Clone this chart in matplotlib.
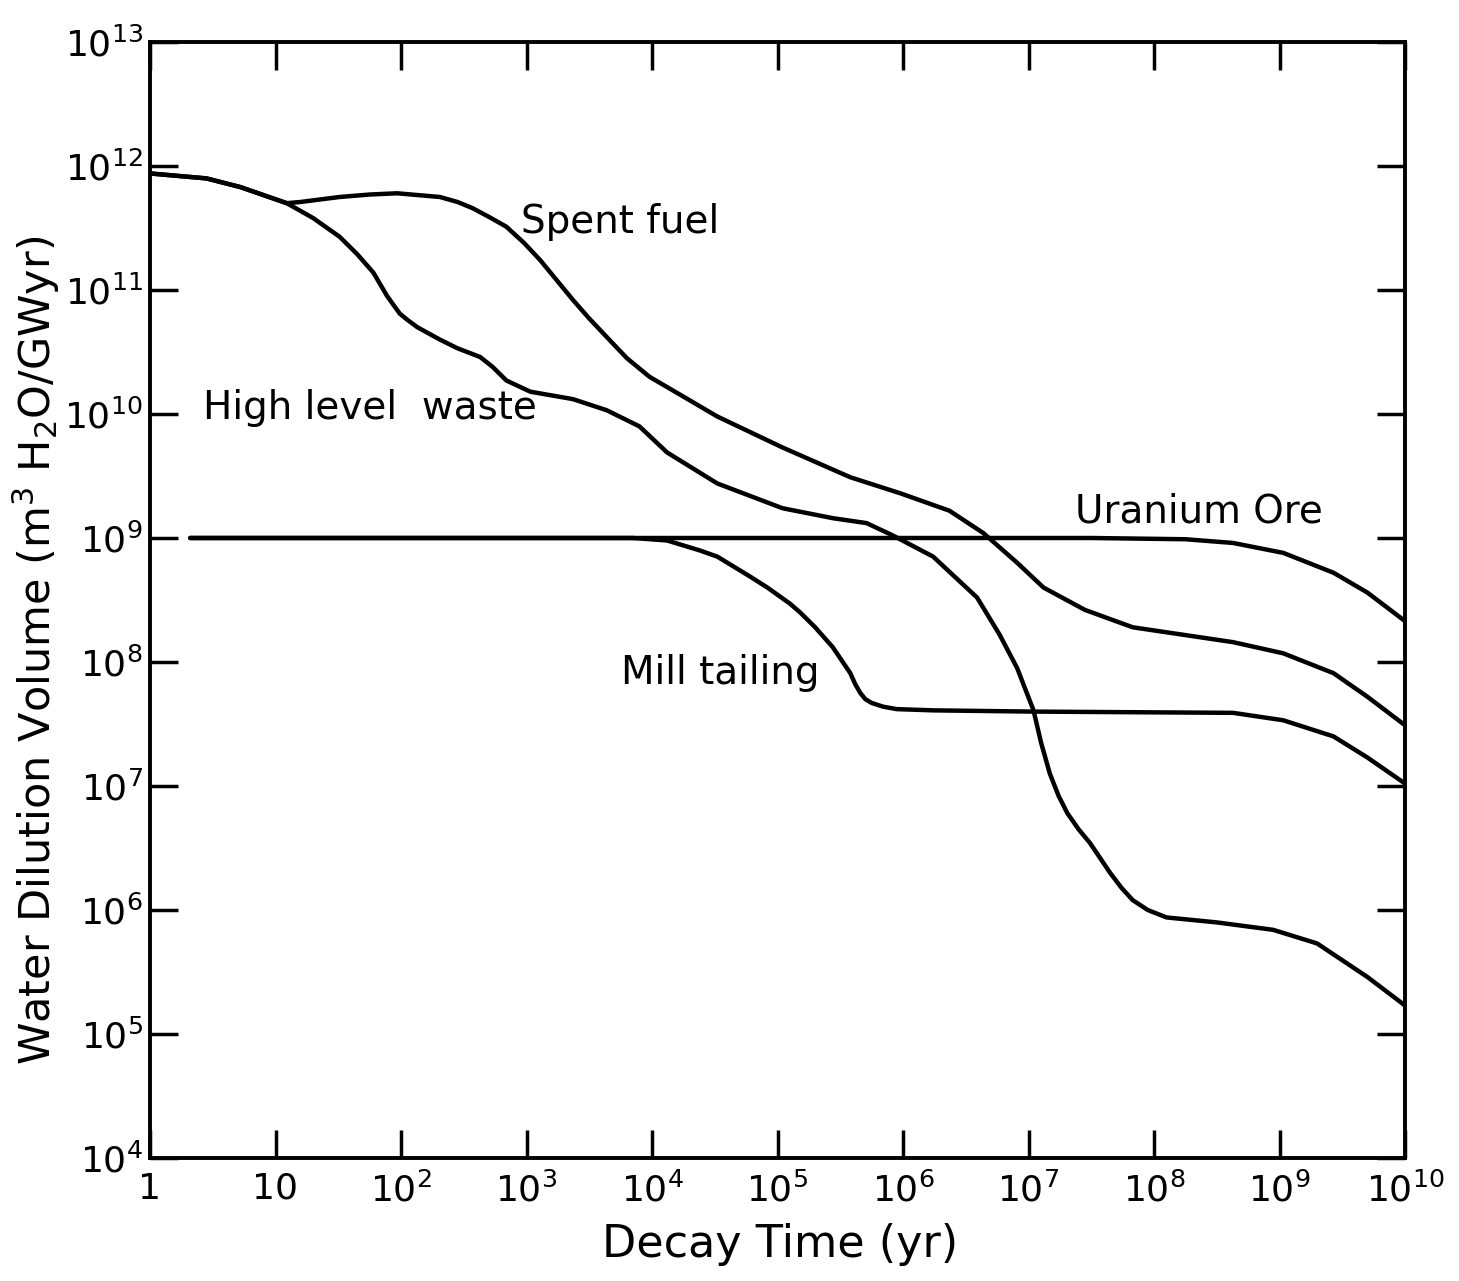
import numpy as np
import matplotlib
matplotlib.use("Agg")
import matplotlib.pyplot as plt

# values, as log10 of decay time (yr) and log10 of volume
spent_t = [0.0, 0.45, 0.72, 1.09, 1.20, 1.51, 1.75, 1.97, 2.31, 2.45, 2.57, 2.70, 2.84,
           2.98, 3.11, 3.24, 3.37, 3.50, 3.64, 3.80, 3.98, 4.20, 4.52, 5.04, 5.58,
           5.98, 6.37, 6.64, 6.91, 7.12, 7.45, 7.83, 8.23, 8.63, 9.03, 9.43, 9.70, 10.0]
spent_v = [11.94, 11.90, 11.83, 11.70, 11.71, 11.75, 11.77, 11.78, 11.75, 11.71, 11.66,
           11.59, 11.51, 11.38, 11.24, 11.08, 10.92, 10.77, 10.62, 10.45, 10.30, 10.17,
           9.98, 9.73, 9.49, 9.36, 9.22, 9.04, 8.80, 8.60, 8.42, 8.28, 8.22, 8.16, 8.07,
           7.91, 7.72, 7.49]

hlw_t = [0.0, 0.45, 0.72, 1.09, 1.30, 1.51, 1.65, 1.78, 1.89, 1.99, 2.05, 2.13, 2.31,
         2.45, 2.63, 2.73, 2.84, 3.03, 3.37, 3.64, 3.90, 4.12, 4.52, 5.04, 5.44, 5.71,
         5.92, 6.24, 6.59, 6.77, 6.91, 7.04, 7.10, 7.17, 7.24, 7.31, 7.40, 7.49, 7.57,
         7.65, 7.74, 7.83, 7.95, 8.10, 8.50, 8.95, 9.30, 9.70, 10.0]
hlw_v = [11.94, 11.90, 11.83, 11.70, 11.58, 11.43, 11.29, 11.14, 10.95, 10.81, 10.76,
         10.70, 10.60, 10.53, 10.46, 10.38, 10.27, 10.18, 10.12, 10.03, 9.90, 9.69,
         9.44, 9.24, 9.16, 9.12, 9.02, 8.85, 8.52, 8.22, 7.95, 7.61, 7.35, 7.10, 6.92,
         6.78, 6.65, 6.54, 6.42, 6.30, 6.18, 6.08, 6.00, 5.94, 5.90, 5.84, 5.73, 5.46,
         5.23]

ore_t = [0.32, 4.0, 7.5, 8.25, 8.63, 9.03, 9.43, 9.70, 10.0]
ore_v = [9.0, 9.0, 9.0, 8.99, 8.96, 8.88, 8.72, 8.56, 8.33]

mill_t = [0.32, 3.85, 4.12, 4.38, 4.52, 4.78, 4.92, 5.10, 5.18, 5.30, 5.44, 5.58, 5.62,
          5.66, 5.70, 5.75, 5.78, 5.84, 5.95, 6.24, 7.04, 8.63, 9.03, 9.43, 9.70, 10.0]
mill_v = [9.0, 9.0, 8.98, 8.90, 8.85, 8.69, 8.60, 8.47, 8.40, 8.28, 8.12, 7.91, 7.82,
          7.75, 7.70, 7.67, 7.66, 7.64, 7.62, 7.61, 7.60, 7.59, 7.53, 7.40, 7.23, 7.02]

x_ticks = [0, 1, 2, 3, 4, 5, 6, 7, 8, 9, 10]
x_labels = ['1', '10'] + [r'$10^{%d}$' % k for k in range(2, 11)]
y_ticks = list(range(4, 14))
y_labels = [r'$10^{%d}$' % k for k in y_ticks]

fig = plt.figure(figsize=(14.59, 12.81), dpi=100)
ax = fig.add_axes([150 / 1459, 1 - 1158 / 1281, 1255 / 1459, 1116 / 1281])

lw = 3.2
for t, v in [(spent_t, spent_v), (hlw_t, hlw_v), (ore_t, ore_v), (mill_t, mill_v)]:
    ax.plot(10.0 ** np.array(t), 10.0 ** np.array(v), color='black', lw=lw,
            solid_joinstyle='round', solid_capstyle='round')

ax.set_xscale('log')
ax.set_yscale('log')
ax.set_xlim(1, 1e10)
ax.set_ylim(1e4, 1e13)
ax.set_xticks([10.0 ** k for k in x_ticks])
ax.set_xticklabels(x_labels)
ax.set_yticks([10.0 ** k for k in y_ticks])
ax.set_yticklabels(y_labels)
ax.minorticks_off()
ax.tick_params(which='major', direction='in', length=20, width=2.5,
               top=True, right=True, labelsize=26, pad=10)
ax.tick_params(axis='y', pad=5)
for s in ax.spines.values():
    s.set_linewidth(2.8)

# curve labels
ax.text(10 ** 2.96, 10 ** 11.55, 'Spent fuel', fontsize=28, va='center', ha='left')
ax.text(10 ** 0.42, 10 ** 10.05, 'High level  waste', fontsize=28, va='center', ha='left')
ax.text(10 ** 7.37, 10 ** 9.21, 'Uranium Ore', fontsize=28, va='center', ha='left')
ax.text(10 ** 3.75, 10 ** 7.91, 'Mill tailing', fontsize=28, va='center', ha='left')

fig.text(780 / 1459, 1 - 1245 / 1281, 'Decay Time (yr)', fontsize=32,
         ha='center', va='center')
fig.text(36 / 1459, 1 - 650 / 1281, r'Water Dilution Volume (m$^3$ H$_2$O/GWyr)',
         fontsize=31, rotation=90, ha='center', va='center')

fig.savefig('out.png', dpi=100)
